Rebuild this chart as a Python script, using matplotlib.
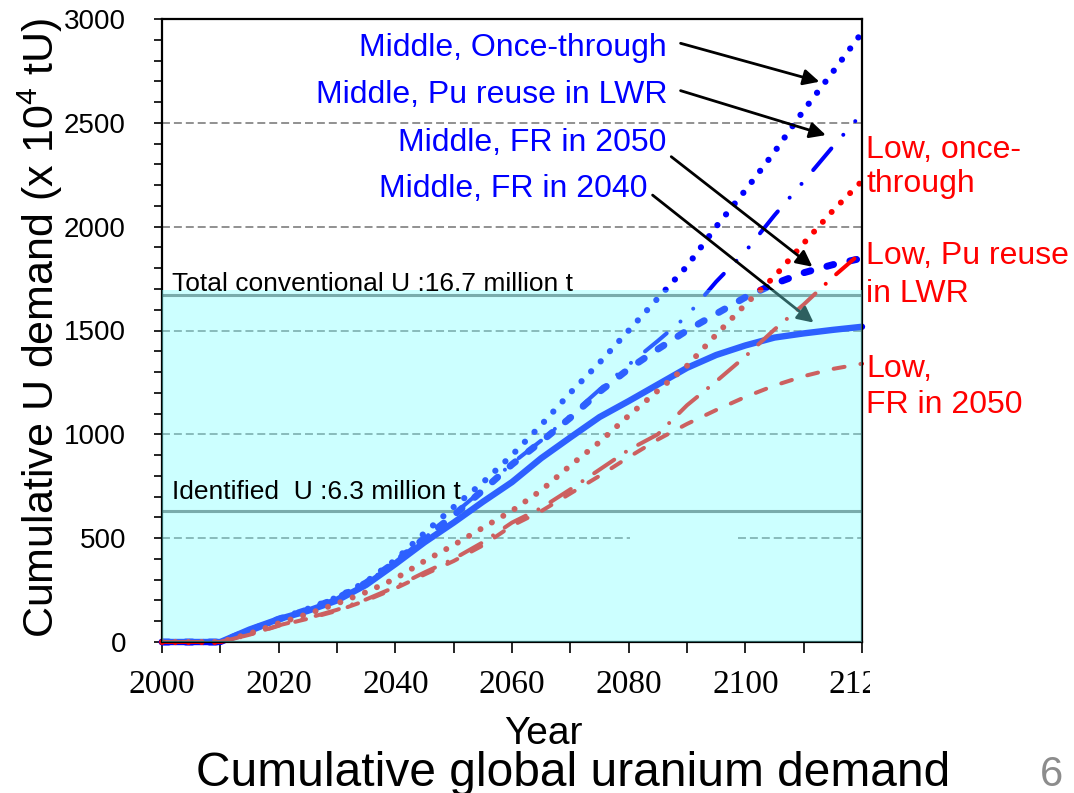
import matplotlib
matplotlib.use("Agg")
import matplotlib.pyplot as plt
from matplotlib.patches import Rectangle
from matplotlib.transforms import Bbox, TransformedBbox

plt.rcParams['font.family'] = ['Liberation Sans', 'DejaVu Sans']
plt.rcParams['mathtext.fontset'] = 'custom'
plt.rcParams['mathtext.rm'] = 'Liberation Sans'

# cumulative demand, 10^4 tU, every 5 years
years = [2000, 2005, 2010, 2015, 2020, 2025, 2030, 2035, 2040, 2045, 2050, 2055,
         2060, 2065, 2070, 2075, 2080, 2085, 2090, 2095, 2100, 2105, 2110, 2115, 2120]

mid_once = [0, 0, 0, 55, 110, 160, 215, 290, 395, 525, 650, 768,
            900, 1045, 1200, 1345, 1500, 1655, 1810, 2000, 2175, 2360, 2560, 2745, 2935]
mid_pu = [0, 0, 0, 55, 110, 155, 210, 285, 385, 500, 615, 735,
          860, 970, 1090, 1215, 1335, 1450, 1570, 1735, 1880, 2055, 2218, 2385, 2545]
mid_fr2050 = [0, 0, 0, 55, 110, 155, 210, 285, 385, 500, 610, 730,
              855, 965, 1080, 1205, 1315, 1410, 1500, 1580, 1660, 1725, 1778, 1817, 1848]
mid_fr2040 = [0, 0, 0, 60, 110, 150, 200, 275, 375, 480, 575, 675,
              770, 885, 985, 1083, 1160, 1240, 1320, 1382, 1428, 1466, 1486, 1503, 1518]

low_once = [0, 0, 0, 40, 90, 135, 185, 240, 305, 390, 467, 550,
            632, 730, 850, 963, 1090, 1210, 1330, 1480, 1625, 1760, 1920, 2077, 2220]
low_pu = [0, 0, 0, 35, 80, 115, 155, 205, 265, 335, 400, 480,
          575, 645, 735, 830, 925, 1000, 1140, 1255, 1375, 1505, 1625, 1757, 1878]
low_fr2050 = [0, 0, 0, 35, 78, 112, 150, 200, 258, 325, 390, 465,
              560, 630, 715, 800, 890, 975, 1050, 1117, 1180, 1235, 1280, 1315, 1340]

conventional_u = 1670   # 16.7 million t
identified_u = 630      # 6.3 million t

xtick_vals = [2000, 2020, 2040, 2060, 2080, 2100, 2120]
ytick_vals = [0, 500, 1000, 1500, 2000, 2500, 3000]

BLUE = '#0000FF'
RED = '#FF0000'

fig = plt.figure(figsize=(10.74, 7.93), dpi=100)
ax = fig.add_axes([162/1074, 1 - 642/793, 700/1074, 623/793])
ax.set_xlim(2000, 2120)
ax.set_ylim(0, 3000)

# dashed grid (500 line has a break)
for v in ytick_vals[1:]:
    if v == 500:
        ax.plot([2000, 2080.2], [v, v], color='#888888', lw=1.3, ls=(0, (4.4, 2.2)), zorder=1)
        ax.plot([2098.7, 2120], [v, v], color='#888888', lw=1.3, ls=(0, (4.4, 2.2)), zorder=1)
    else:
        ax.plot([2000, 2120], [v, v], color='#888888', lw=1.3, ls=(0, (4.4, 2.2)), zorder=1)

ax.axhline(conventional_u, color='#7a7a7a', lw=2.2, zorder=1.5)
ax.axhline(identified_u, color='#7a7a7a', lw=2.2, zorder=1.5)

dot = (0, (0.01, 2.2))
kw = dict(clip_on=False, dash_capstyle='round', solid_capstyle='round')
ax.plot(years, mid_once, color=BLUE, lw=4.5, ls=dot, zorder=2, **kw)
ax.plot(years, mid_pu, color=BLUE, lw=2.9, ls=(0, (7, 4.5, 0.01, 4.5, 0.01, 4.5)), zorder=2, **kw)
ax.plot(years, mid_fr2050, color=BLUE, lw=5, ls=(0, (1.0, 2.4)), zorder=2, **kw)
ax.plot(years, mid_fr2040, color=BLUE, lw=4.6, ls='-', zorder=2, **kw)
ax.plot(years, low_once, color=RED, lw=4.3, ls=dot, zorder=2.1, **kw)
ax.plot(years, low_pu, color=RED, lw=2.9, ls=(0, (6, 3.5, 0.01, 3.5)), zorder=2.1, **kw)
ax.plot(years, low_fr2050, color=RED, lw=2.9, ls=(0, (2.75, 4)), zorder=2.1, **kw)

# arrows from the scenario names
arrow_kw = dict(arrowstyle='-|>', lw=2.0, color='black', mutation_scale=24, shrinkA=0, shrinkB=0)
ax.annotate('', xy=(2112.7, 2698), xytext=(2088.9, 2883), arrowprops=arrow_kw, zorder=2.8)
ax.annotate('', xy=(2113.8, 2441), xytext=(2088.9, 2655), arrowprops=arrow_kw, zorder=2.8)
ax.annotate('', xy=(2111.5, 1807), xytext=(2087.3, 2337), arrowprops=arrow_kw, zorder=2.8)
ax.annotate('', xy=(2111.7, 1538), xytext=(2084.1, 2152), arrowprops=arrow_kw, zorder=2.8)

# translucent cyan box for conventional resources
ax.add_patch(Rectangle((2000, 0), 120, conventional_u + 25, facecolor='#79FFFF',
                       edgecolor='none', alpha=0.38, zorder=3, clip_on=False))

ax.text(2001.8, 1690, 'Total conventional U :16.7 million t', fontsize=19, va='baseline', zorder=5)
ax.text(2001.8, 690, 'Identified  U :6.3 million t', fontsize=19, va='baseline', zorder=5)

mid_labels = [('Middle, Once-through', 2086.6, 2822),
              ('Middle, Pu reuse in LWR', 2086.6, 2597),
              ('Middle, FR in 2050', 2086.4, 2366),
              ('Middle, FR in 2040', 2083.3, 2141)]
for s, x, y in mid_labels:
    ax.text(x, y, s, color=BLUE, fontsize=23, ha='right', va='baseline', zorder=5)

low_labels = [('Low, once-', 2331), ('through', 2169),
              ('Low, Pu reuse', 1820), ('in LWR', 1637),
              ('Low,', 1278), ('FR in 2050', 1105)]
for s, y in low_labels:
    ax.text(2120.7, y, s, color=RED, fontsize=23, ha='left', va='baseline', clip_on=False, zorder=5)

# axes styling
for sp in ax.spines.values():
    sp.set_linewidth(1.6)
    sp.set_color('black')
ax.set_yticks(ytick_vals)
ax.set_yticks(range(0, 3001, 100), minor=True)
ax.set_xticks(xtick_vals)
ax.set_xticks(range(2000, 2121, 10), minor=True)
ax.tick_params(axis='y', which='both', direction='out', length=6, width=1.2,
               labelsize=20, pad=20)
ax.tick_params(axis='x', which='both', direction='out', length=8, width=1.2, pad=12)
ax.set_xticklabels([str(v) for v in xtick_vals], fontfamily='Liberation Serif', fontsize=24)

clip = TransformedBbox(Bbox([[0, 0], [870/1074, 1]]), fig.transFigure)
for lbl in ax.get_xticklabels():
    lbl.set_clip_box(clip)
    lbl.set_clip_on(True)

fig.text(40/1074, 1 - 328/793, r'Cumulative U demand (x 10$^{4}$ tU)', rotation=90,
         ha='center', va='center', fontsize=31)
fig.text(543/1074, 1 - 744/793, 'Year', ha='center', va='baseline', fontsize=28)
fig.text(573/1074, 1 - 786/793, 'Cumulative global uranium demand', ha='center',
         va='baseline', fontsize=34.5)
fig.text(1051/1074, 1 - 786/793, '6', ha='center', va='baseline', fontsize=30, color='#8c8c8c')

fig.savefig('out.png', dpi=100)
